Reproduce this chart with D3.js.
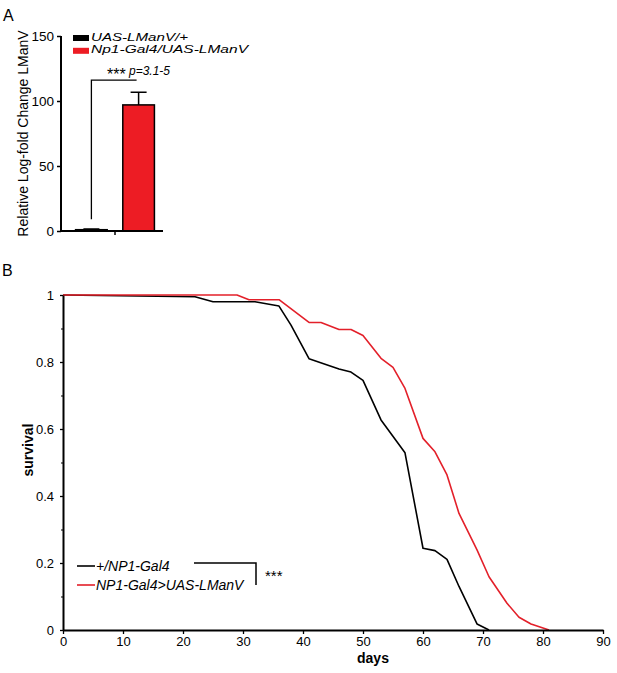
<!DOCTYPE html>
<html>
<head>
<meta charset="utf-8">
<script src="https://cdn.jsdelivr.net/npm/d3@7"></script>
<style>
  body { margin: 0; background: #fff; }
  svg { font-family: "Liberation Sans", Arial, sans-serif; }
</style>
</head>
<body>
<svg id="chart" width="617" height="673"></svg>
<script>
// panel A: qPCR bars
var groups = ["UAS-LManV/+", "Np1-Gal4/UAS-LManV"];
var foldChange = [1, 97];
var foldErr = [0.5, 9.7];
var barColors = ["#000000", "#ed1c24"];
var yTicksA = [0, 50, 100, 150];

// panel B: survival curves
var seriesNames = ["+/NP1-Gal4", "NP1-Gal4>UAS-LManV"];
var ctrlDays = [0, 22, 25, 32, 36, 38, 41, 46, 48, 50, 53, 57, 60, 62, 64, 66, 69, 71];
var ctrlSurv = [1, 0.995, 0.98, 0.98, 0.967, 0.91, 0.81, 0.779, 0.77, 0.745, 0.627, 0.529, 0.244, 0.237, 0.211, 0.13, 0.018, 0];
var lmanDays = [0, 29, 31, 36, 41, 43, 46, 48, 50, 53, 55, 57, 60, 62, 64, 66, 69, 71, 74, 76, 78, 81];
var lmanSurv = [1, 1, 0.986, 0.986, 0.918, 0.918, 0.897, 0.897, 0.879, 0.811, 0.784, 0.721, 0.572, 0.532, 0.463, 0.348, 0.239, 0.159, 0.08, 0.038, 0.018, 0];
var lineColors = ["#000000", "#e3202a"];
var xTicksB = [0, 10, 20, 30, 40, 50, 60, 70, 80, 90];
var yTicksB = [0, 0.2, 0.4, 0.6, 0.8, 1];
var yMinorB = [0.1, 0.3, 0.5, 0.7, 0.9];

var svg = d3.select("#chart");

// ---------- panel A ----------
svg.append("text").attr("x", 3).attr("y", 21).attr("font-size", 16).text("A");

var xA = d3.scaleBand().domain(groups).range([60, 170]).paddingInner(0.33).paddingOuter(0.33);
var yA = d3.scaleLinear().domain([0, 150]).range([231, 36]);

var gA = svg.append("g");

gA.selectAll("rect.bar").data(groups).enter().append("rect")
  .attr("class", "bar")
  .attr("x", function(d){ return xA(d); })
  .attr("y", function(d, i){ return yA(foldChange[i]); })
  .attr("width", xA.bandwidth())
  .attr("height", function(d, i){ return yA(0) - yA(foldChange[i]); })
  .attr("fill", function(d, i){ return barColors[i]; })
  .attr("stroke", "#000")
  .attr("stroke-width", 1.5);

// error bars (upper only)
gA.selectAll("path.err").data(groups).enter().append("path")
  .attr("class", "err")
  .attr("fill", "none")
  .attr("stroke", "#000")
  .attr("stroke-width", 1.5)
  .attr("d", function(d, i){
    var cx = xA(d) + xA.bandwidth() / 2;
    var top = yA(foldChange[i] + foldErr[i]);
    return "M" + cx + "," + yA(foldChange[i]) + "V" + top + "M" + (cx - 8) + "," + top + "H" + (cx + 8);
  });

var yAxisA = d3.axisLeft(yA).tickValues(yTicksA).tickSize(4).tickSizeOuter(0);
gA.append("g").attr("transform", "translate(61,0)").call(yAxisA)
  .call(function(g){
    g.select(".domain").attr("stroke-width", 2).attr("d", "M0," + yA(150) + "V" + yA(0));
    g.selectAll(".tick line").attr("stroke-width", 1.5);
    g.selectAll(".tick text").attr("font-size", 13.5).attr("fill", "#000").attr("font-family", "Liberation Sans, Arial");
  });

// x axis A with single centre tick
var midA = (xA(groups[0]) + xA.bandwidth() + xA(groups[1])) / 2;
gA.append("line").attr("x1", 60).attr("x2", 163).attr("y1", yA(0)).attr("y2", yA(0))
  .attr("stroke", "#000").attr("stroke-width", 2);
gA.append("line").attr("x1", midA).attr("x2", midA).attr("y1", yA(0)).attr("y2", yA(0) + 4)
  .attr("stroke", "#000").attr("stroke-width", 1.5);

gA.append("text")
  .attr("transform", "translate(28," + (yA(0) + yA(150)) / 2 + ") rotate(-90)")
  .attr("text-anchor", "middle")
  .attr("font-size", 14)
  .text("Relative Log-fold Change LManV");

// significance bracket
var bx0 = xA(groups[0]) + xA.bandwidth() / 2;
var bx1 = xA(groups[1]) + xA.bandwidth() / 2 - 2;
gA.append("path")
  .attr("d", "M" + bx0 + "," + yA(9) + "V" + yA(116) + "H" + bx1)
  .attr("fill", "none").attr("stroke", "#000").attr("stroke-width", 1.3);
gA.append("text").attr("x", 107).attr("y", 80).attr("font-size", 16).text("***");
gA.append("text").attr("x", 129).attr("y", 75).attr("font-size", 12.5).attr("font-style", "italic")
  .attr("textLength", 41).attr("lengthAdjust", "spacingAndGlyphs").text("p=3.1-5");

// legend A
var legWidthsA = [97, 157];
var legA = gA.selectAll("g.leg").data(groups).enter().append("g")
  .attr("class", "leg")
  .attr("transform", function(d, i){ return "translate(73," + (35 + i * 12.8) + ")"; });
legA.append("rect").attr("width", 16).attr("height", 6)
  .attr("fill", function(d, i){ return barColors[i]; });
legA.append("text").attr("x", 18).attr("y", 5.5).attr("font-size", 11)
  .attr("font-style", "italic")
  .attr("textLength", function(d, i){ return legWidthsA[i]; })
  .attr("lengthAdjust", "spacingAndGlyphs")
  .text(function(d){ return d; });

// ---------- panel B ----------
svg.append("text").attr("x", 2).attr("y", 276).attr("font-size", 16).text("B");

var xB = d3.scaleLinear().domain([0, 90]).range([63, 603]);
var yB = d3.scaleLinear().domain([0, 1]).range([630, 295]);
var gB = svg.append("g");

var line = d3.line()
  .x(function(d){ return xB(d[0]); })
  .y(function(d){ return yB(d[1]); });

var curves = [d3.zip(ctrlDays, ctrlSurv), d3.zip(lmanDays, lmanSurv)];

gB.selectAll("path.curve").data(curves).enter().append("path")
  .attr("class", "curve")
  .attr("fill", "none")
  .attr("stroke", function(d, i){ return lineColors[i]; })
  .attr("stroke-width", 1.6)
  .attr("stroke-linejoin", "round")
  .attr("d", line);

var xAxisB = d3.axisBottom(xB).tickValues(xTicksB).tickSize(4).tickSizeOuter(0).tickPadding(3);
gB.append("g").attr("transform", "translate(0," + yB(0) + ")").call(xAxisB)
  .call(function(g){
    g.select(".domain").attr("stroke-width", 2);
    g.selectAll(".tick line").attr("stroke-width", 1.3);
    g.selectAll(".tick text").attr("font-size", 13).attr("fill", "#000").attr("font-family", "Liberation Sans, Arial");
  });

var yAxisB = d3.axisLeft(yB).tickValues(yTicksB).tickSize(3).tickSizeOuter(0).tickPadding(6)
  .tickFormat(d3.format("~g"));
gB.append("g").attr("transform", "translate(" + xB(0) + ",0)").call(yAxisB)
  .call(function(g){
    g.select(".domain").attr("stroke-width", 2);
    g.selectAll(".tick line").attr("stroke-width", 1.3);
    g.selectAll(".tick text").attr("font-size", 13).attr("fill", "#000").attr("font-family", "Liberation Sans, Arial");
  });
gB.append("g").attr("transform", "translate(" + xB(0) + ",0)")
  .call(d3.axisLeft(yB).tickValues(yMinorB).tickSize(2).tickFormat(""))
  .call(function(g){ g.select(".domain").remove(); });

gB.append("text")
  .attr("transform", "translate(33,450) rotate(-90)")
  .attr("text-anchor", "middle")
  .attr("font-size", 14).attr("font-weight", "bold")
  .text("survival");
gB.append("text")
  .attr("x", 373).attr("y", 663)
  .attr("text-anchor", "middle")
  .attr("font-size", 14).attr("font-weight", "bold")
  .text("days");

// legend B
var legB = gB.selectAll("g.leg").data(seriesNames).enter().append("g")
  .attr("class", "leg")
  .attr("transform", function(d, i){ return "translate(77," + (566 + i * 19) + ")"; });
legB.append("line").attr("x1", 0).attr("x2", 18)
  .attr("stroke", function(d, i){ return lineColors[i]; }).attr("stroke-width", 1.6);
legB.append("text").attr("x", 19).attr("y", 5).attr("font-size", 14)
  .attr("font-style", "italic")
  .text(function(d){ return d; });

gB.append("path")
  .attr("d", "M194,563H256V585")
  .attr("fill", "none").attr("stroke", "#000").attr("stroke-width", 1.5);
gB.append("text").attr("x", 265).attr("y", 581).attr("font-size", 15).text("***");
</script>
</body>
</html>
